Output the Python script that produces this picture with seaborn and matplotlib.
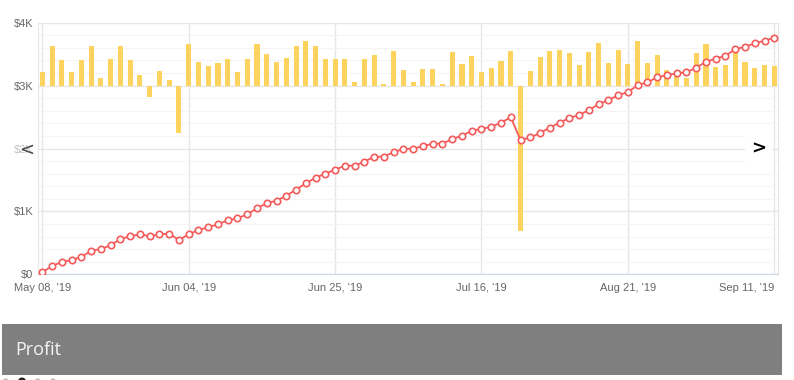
import numpy as np
import pandas as pd
import seaborn as sns
import matplotlib.pyplot as plt
from matplotlib.patches import Rectangle, Circle

# cumulative profit (line), one point per period
cumulative = [
    32, 132, 196, 227, 275, 375, 402, 461, 561, 604,
    636, 604, 636, 646, 545, 636, 704, 747, 795, 858,
    890, 954, 1049, 1132, 1170, 1250, 1345, 1447, 1536, 1599,
    1663, 1727, 1727, 1790, 1870, 1870, 1944, 1990, 2000, 2035,
    2078, 2078, 2150, 2203, 2283, 2310, 2347, 2410, 2496, 2135,
    2175, 2246, 2331, 2410, 2485, 2533, 2612, 2703, 2771, 2846,
    2898, 3005, 3052, 3132, 3164, 3196, 3211, 3285, 3380, 3428,
    3475, 3577, 3618, 3672, 3714, 3762,
]

# profit per period (bars)
daily = [
    33, 99, 64, 35, 64, 99, 20, 67, 99, 64,
    27, -28, 37, 13, -119, 104, 59, 49, 57, 66,
    34, 67, 104, 79, 59, 69, 99, 112, 99, 67,
    67, 67, 8, 67, 77, 3, 87, 39, 8, 42,
    42, 5, 84, 54, 74, 34, 44, 62, 87, -363,
    37, 72, 87, 89, 82, 52, 84, 107, 57, 89,
    54, 112, 57, 77, 39, 37, 19, 82, 104, 47,
    52, 89, 59, 44, 52, 49,
]

date_labels = ["May 08, '19", "Jun 04, '19", "Jun 25, '19",
               "Jul 16, '19", "Aug 21, '19", "Sep 11, '19"]
label_pos = [0, 15, 30, 45, 60, 75]

y_ticks = [0, 1000, 2000, 3000, 4000]
y_labels = ["$0", "$1K", "$2K", "$3K", "$4K"]

df = pd.DataFrame({"idx": np.arange(len(cumulative)),
                   "cumulative": cumulative, "daily": daily})

sns.set_style("white")
plt.rcParams["font.family"] = ["Liberation Sans", "DejaVu Sans"]

W, H = 794, 380
fig = plt.figure(figsize=(W / 100, H / 100), dpi=100)
ax = fig.add_axes([37.7 / W, 1 - 274.3 / H, (778 - 37.7) / W, 251.6 / H])
ax2 = ax.twinx()   # bars
ax3 = ax.twinx()   # line on top

sns.barplot(data=df, x="idx", y="daily", ax=ax2, color="#fcd35f",
            saturation=1, width=0.52, linewidth=0)
sns.lineplot(data=df, x="idx", y="cumulative", ax=ax3, color="#f45b5b",
             linewidth=1.3, marker="o", markersize=4.6,
             markerfacecolor="white", markeredgecolor="#f45b5b",
             markeredgewidth=1.2)

xlim = (-0.47, 75.38)
for a in (ax, ax2, ax3):
    a.set_xlim(xlim)
    a.set_xlabel("")
    a.set_ylabel("")

ax.set_ylim(0, 4000)
ax3.set_ylim(0, 4000)
ax2.set_ylim(-471.75, 157.25)   # bar zero sits on the $3K line
ax2.set_yticks([])
ax3.set_yticks([])

ax.set_yticks(y_ticks)
ax.set_yticklabels(y_labels)
ax.set_yticks(np.arange(0, 4001, 200), minor=True)
ax.set_xticks(label_pos)
ax.set_xticklabels(date_labels)
ax.tick_params(axis="both", length=0, labelsize=8, colors="#666666")
ax.tick_params(axis="y", pad=3)
ax.tick_params(axis="x", pad=6)
ax.tick_params(axis="y", which="minor", length=0)
# last date label is kept inside the plot, as in the original
last = ax.get_xticklabels()[-1]
last.set_horizontalalignment("right")
ax.grid(True, which="major", color="#e6e6e6", linewidth=1)
ax.grid(True, which="minor", axis="y", color="#f4f4f4", linewidth=0.8)
ax.set_axisbelow(True)

for a in (ax, ax2, ax3):
    for s in a.spines.values():
        s.set_visible(False)
for side in ("left", "right"):
    ax.spines[side].set_visible(True)
    ax.spines[side].set_color("#e6e6e6")
ax.spines["bottom"].set_visible(True)
ax.spines["bottom"].set_color("#ccd6eb")
ax2.patch.set_visible(False)
ax3.patch.set_visible(False)
ax3.tick_params(axis="x", length=0, labelbottom=False)
ax2.tick_params(axis="x", length=0, labelbottom=False)

# overlay in pixel coords for the carousel decorations
ov = fig.add_axes([0, 0, 1, 1])
ov.set_xlim(0, W)
ov.set_ylim(H, 0)
ov.axis("off")
ov.patch.set_visible(False)

ov.add_patch(Rectangle((10, 136), 25, 26, color="white", alpha=0.6, lw=0))
ov.text(27, 150, "<", fontsize=13, color="#444444", ha="center", va="center",
        family="DejaVu Sans")
ov.add_patch(Rectangle((745, 132), 27, 32, color="white", lw=0))
ov.text(759, 149, ">", fontsize=13, color="black", ha="center", va="center",
        family="DejaVu Sans", fontweight="bold")

ov.add_patch(Rectangle((2, 324), 780, 51, color="#7f7f7f", lw=0))
ov.text(15, 350, "Profit", fontsize=13, color="#f5f5f5", ha="left",
        va="center", family="Open Sans")

for cx, r, c in [(5.7, 3, "#bbbbbb"), (22, 4, "#222222"),
                 (37.7, 3, "#bbbbbb"), (53, 3, "#bbbbbb")]:
    ov.add_patch(Circle((cx, 381.5), r, color=c, lw=0, clip_on=False))

fig.savefig("out.png", dpi=100)
